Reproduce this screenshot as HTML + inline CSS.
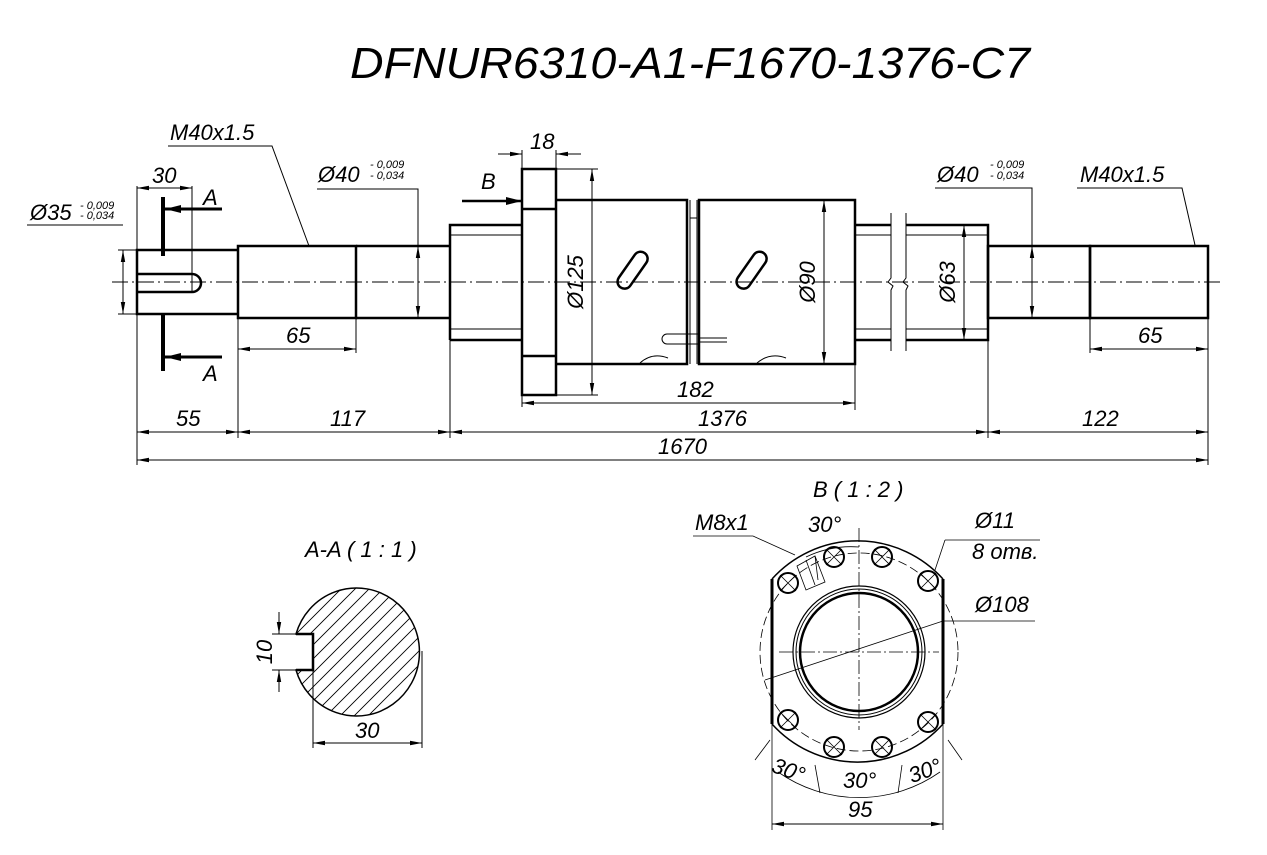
<!DOCTYPE html>
<html><head><meta charset="utf-8"><style>
html,body{margin:0;padding:0;background:#fff}
svg{display:block}
text{font-family:"Liberation Sans",sans-serif;font-style:italic;fill:#000}
</style></head><body>
<svg width="1267" height="855" viewBox="0 0 1267 855" xmlns="http://www.w3.org/2000/svg">
<defs>
<marker id="a" viewBox="0 0 12 6" refX="12" refY="3" markerWidth="12" markerHeight="6" markerUnits="userSpaceOnUse" orient="auto-start-reverse"><path d="M0,0.8 L12,3 L0,5.2z" fill="#000"/></marker>
<marker id="b" viewBox="0 0 16 8" refX="16" refY="4" markerWidth="16" markerHeight="8" markerUnits="userSpaceOnUse" orient="auto"><path d="M0,0 L16,4 L0,8z" fill="#000"/></marker>
<clipPath id="cc"><path d="M313,634 L296,634 A63,64 0 1 1 296,670 L313,670z"/></clipPath>
</defs>
<text x="350" y="78" font-size="44" textLength="680" lengthAdjust="spacingAndGlyphs">DFNUR6310-A1-F1670-1376-C7</text>

<g stroke="#000" fill="none">
<line x1="112" y1="282" x2="1222" y2="282" stroke-width="1" stroke-dasharray="16,4,2,4"/>
<g stroke-width="2.5">
<path d="M238,250 L137,250 L137,314 L238,314"/>
<path d="M137,274 L192,274 A9,9 0 0 1 192,292 L137,292"/>
<rect x="238" y="246" width="118" height="72"/>
<path d="M356,246 L450,246 M356,318 L450,318"/>
<path d="M450,340 L450,225 L522,225 M450,340 L522,340"/>
<rect x="522" y="169" width="34" height="226"/>
<path d="M522,209 L556,209 M522,356 L556,356"/>
<path d="M556,200 L687,200 L687,364 L556,364 M699,200 L855,200 L855,364 L699,364 Z"/>
<path d="M855,225 L891,225 M906,225 L988,225 L988,340 L906,340 M891,340 L855,340"/>
<rect x="988" y="246" width="102" height="72"/>
<rect x="1090" y="246" width="118" height="72"/>
<line x1="163" y1="197" x2="163" y2="256" stroke-width="4"/>
<line x1="163" y1="313" x2="163" y2="371" stroke-width="4"/>
<rect x="612" y="264" width="42" height="14" rx="7" transform="rotate(-55 632 271)"/>
<rect x="731" y="264" width="42" height="14" rx="7" transform="rotate(-55 751 271)"/>
</g>
<g stroke-width="1">
<path d="M450,235 L522,235 M450,329 L522,329 M855,235 L891,235 M906,235 L988,235 M855,329 L891,329 M906,329 L988,329"/>
<path d="M690,200 L690,364 M697,200 L697,364 M690,218 L697,218"/>
<path d="M891,213 L891,278 L888,282 L893,286 L891,290 L891,351 M906,213 L906,278 L903,282 L908,286 L906,290 L906,351"/>
<path d="M667,334 L700,334 M667,344 L700,344 M700,338 L727,338 M700,342 L727,342" />
<path d="M667,334 A5,5 0 0 0 667,344"/>
<path d="M640,363 Q652,352 668,358 M757,363 Q770,352 786,358"/>
<line x1="222" y1="209" x2="165" y2="209" stroke-width="3" marker-end="url(#b)"/>
<line x1="222" y1="357" x2="165" y2="357" stroke-width="3" marker-end="url(#b)"/>
<line x1="462" y1="201" x2="522" y2="201" stroke-width="2.5" marker-end="url(#b)"/>
<path d="M137,186 L137,250 M192,186 L192,292"/>
<line x1="137" y1="188" x2="192" y2="188" marker-start="url(#a)" marker-end="url(#a)"/>
<path d="M118,250 L137,250 M118,314 L137,314 M123,225 L27,225"/>
<line x1="123" y1="250" x2="123" y2="314" marker-start="url(#a)" marker-end="url(#a)"/>
<path d="M168,146 L272,146 L309,246"/>
<path d="M317,189 L418,189 L418,246"/>
<line x1="418" y1="246" x2="418" y2="318" marker-start="url(#a)" marker-end="url(#a)"/>
<path d="M238,318 L238,438 M356,318 L356,353 M450,340 L450,438 M137,314 L137,465 M1208,318 L1208,465 M988,340 L988,438 M1090,318 L1090,353 M522,395 L522,407 M855,364 L855,410 M522,169 L522,150 M556,169 L556,150 M556,169 L598,169 M556,395 L598,395 M830,200 L855,200 M830,364 L855,364"/>
<line x1="238" y1="349" x2="356" y2="349" marker-start="url(#a)" marker-end="url(#a)"/>
<line x1="1090" y1="349" x2="1208" y2="349" marker-start="url(#a)" marker-end="url(#a)"/>
<line x1="137" y1="432" x2="238" y2="432" marker-start="url(#a)" marker-end="url(#a)"/>
<line x1="238" y1="432" x2="450" y2="432" marker-start="url(#a)" marker-end="url(#a)"/>
<line x1="450" y1="432" x2="988" y2="432" marker-start="url(#a)" marker-end="url(#a)"/>
<line x1="988" y1="432" x2="1208" y2="432" marker-start="url(#a)" marker-end="url(#a)"/>
<line x1="137" y1="460" x2="1208" y2="460" marker-start="url(#a)" marker-end="url(#a)"/>
<line x1="522" y1="403" x2="855" y2="403" marker-start="url(#a)" marker-end="url(#a)"/>
<line x1="498" y1="154" x2="522" y2="154" marker-end="url(#a)"/>
<line x1="581" y1="154" x2="556" y2="154" marker-end="url(#a)"/>
<line x1="592" y1="169" x2="592" y2="395" marker-start="url(#a)" marker-end="url(#a)"/>
<line x1="824" y1="200" x2="824" y2="364" marker-start="url(#a)" marker-end="url(#a)"/>
<line x1="964" y1="225" x2="964" y2="340" marker-start="url(#a)" marker-end="url(#a)"/>
<path d="M935,188 L1032,188 L1032,246"/>
<line x1="1032" y1="246" x2="1032" y2="318" marker-start="url(#a)" marker-end="url(#a)"/>
<path d="M1077,188 L1182,188 L1195,245"/>
</g>
</g>
<g font-size="22">
<text x="170" y="140">M40x1.5</text>
<text x="152" y="183">30</text>
<text x="203" y="205">A</text>
<text x="203" y="381">A</text>
<text x="30" y="220">Ø35</text>
<text x="318" y="182">Ø40</text>
<text x="286" y="343">65</text>
<text x="1138" y="343">65</text>
<text x="481" y="189">B</text>
<text x="530" y="149">18</text>
<text x="937" y="182">Ø40</text>
<text x="1080" y="182">M40x1.5</text>
<text x="176" y="426">55</text>
<text x="330" y="426">117</text>
<text x="698" y="426">1376</text>
<text x="1082" y="426">122</text>
<text x="658" y="454">1670</text>
<text x="677" y="397">182</text>
<text transform="translate(583,282) rotate(-90)" text-anchor="middle">Ø125</text>
<text transform="translate(815,282) rotate(-90)" text-anchor="middle">Ø90</text>
<text transform="translate(955,282) rotate(-90)" text-anchor="middle">Ø63</text>
</g>
<g font-size="11">
<text x="80" y="209">- 0,009</text><text x="80" y="219">- 0,034</text>
<text x="370" y="168">- 0,009</text><text x="370" y="179">- 0,034</text>
<text x="990" y="168">- 0,009</text><text x="990" y="179">- 0,034</text>
</g>

<g stroke="#000" fill="none">
<g clip-path="url(#cc)" stroke-width="0.9">
<path d="M230,700 L380,550 M230,714 L394,550 M230,728 L408,550 M230,742 L422,550 M244,742 L436,550 M258,742 L450,550 M272,742 L450,564 M286,742 L450,578 M300,742 L450,592 M314,742 L450,606 M328,742 L450,620 M342,742 L450,634 M356,742 L450,648 M370,742 L450,662 M230,686 L366,550 M230,672 L352,550 M230,658 L338,550 M230,644 L324,550 M230,630 L310,550"/>
</g>
<path d="M313,634 L296,634 A63,64 0 1 1 296,670 L313,670" stroke-width="1.5"/>
<path d="M296,634 L313,634 L313,670 L296,670" stroke-width="2.5"/>
<path d="M272,634 L296,634 M272,670 L296,670 M313,670 L313,748 M422,651 L422,748" stroke-width="1"/>
<line x1="279" y1="612" x2="279" y2="634" stroke-width="1" marker-end="url(#a)"/>
<line x1="279" y1="692" x2="279" y2="670" stroke-width="1" marker-end="url(#a)"/>
<line x1="313" y1="743" x2="422" y2="743" stroke-width="1" marker-start="url(#a)" marker-end="url(#a)"/>
</g>
<g font-size="22">
<text x="305" y="557">A-A ( 1 : 1 )</text>
<text transform="translate(272,652) rotate(-90)" text-anchor="middle">10</text>
<text x="355" y="738">30</text>
</g>

<g stroke="#000" fill="none">
<path d="M772,579 A115,115 0 0 1 943,579 M772,724 A115,115 0 0 0 943,724" stroke-width="1.5"/>
<path d="M772,579 L772,724 M943,579 L943,724" stroke-width="3"/>
<circle cx="859" cy="652" r="99" stroke-width="0.8" stroke-dasharray="9,4"/>
<circle cx="859" cy="652" r="66" stroke-width="1.2"/>
<circle cx="859" cy="652" r="63" stroke-width="1"/>
<circle cx="859" cy="652" r="59" stroke-width="2.5"/>
<path d="M779,652 L939,652 M859,528 L859,730" stroke-width="0.8" stroke-dasharray="14,3,2,3"/>
<g stroke-width="2">
<circle cx="788" cy="583" r="10"/><circle cx="834" cy="557" r="10"/><circle cx="882" cy="557" r="10"/><circle cx="928" cy="581" r="10"/>
<circle cx="788" cy="720" r="10"/><circle cx="834" cy="747" r="10"/><circle cx="882" cy="747" r="10"/><circle cx="928" cy="722" r="10"/>
</g>
<g stroke-width="0.8">
<path d="M780,575 L796,591 M780,591 L796,575 M826,549 L842,565 M826,565 L842,549 M874,549 L890,565 M874,565 L890,549 M920,573 L936,589 M920,589 L936,573 M780,712 L796,728 M780,728 L796,712 M826,739 L842,755 M826,755 L842,739 M874,739 L890,755 M874,755 L890,739 M920,714 L936,730 M920,730 L936,714"/>
<path d="M797,566 L815,556 L825,582 L806,590 Z M806,560 L815,585 M815,556 L818,580"/>
<path d="M765,680 L943,621 L1035,621"/>
<path d="M945,540 L1040,540 M945,540 L935,570 M693,536 L753,536 L795,555"/>
<path d="M806,557 A105,105 0 0 1 859,547"/>
<path d="M778,772 A141,141 0 0 0 940,772"/>
<path d="M772,724 L772,830 M943,724 L943,830 M770,740 L755,760 M948,740 L962,760 M820,793 L815,765 M898,793 L902,765"/>
</g>
<line x1="772" y1="824" x2="943" y2="824" stroke-width="1" marker-start="url(#a)" marker-end="url(#a)"/>
</g>
<g font-size="22">
<text x="813" y="497">B ( 1 : 2 )</text>
<text x="695" y="530">M8x1</text>
<text x="808" y="532">30°</text>
<text x="975" y="528">Ø11</text>
<text x="972" y="559">8 отв.</text>
<text x="975" y="612">Ø108</text>
<text x="772" y="778" transform="rotate(20 790 770)">30°</text>
<text x="843" y="788">30°</text>
<text x="908" y="778" transform="rotate(-20 925 770)">30°</text>
<text x="848" y="817">95</text>
</g>
</svg>
</body></html>
